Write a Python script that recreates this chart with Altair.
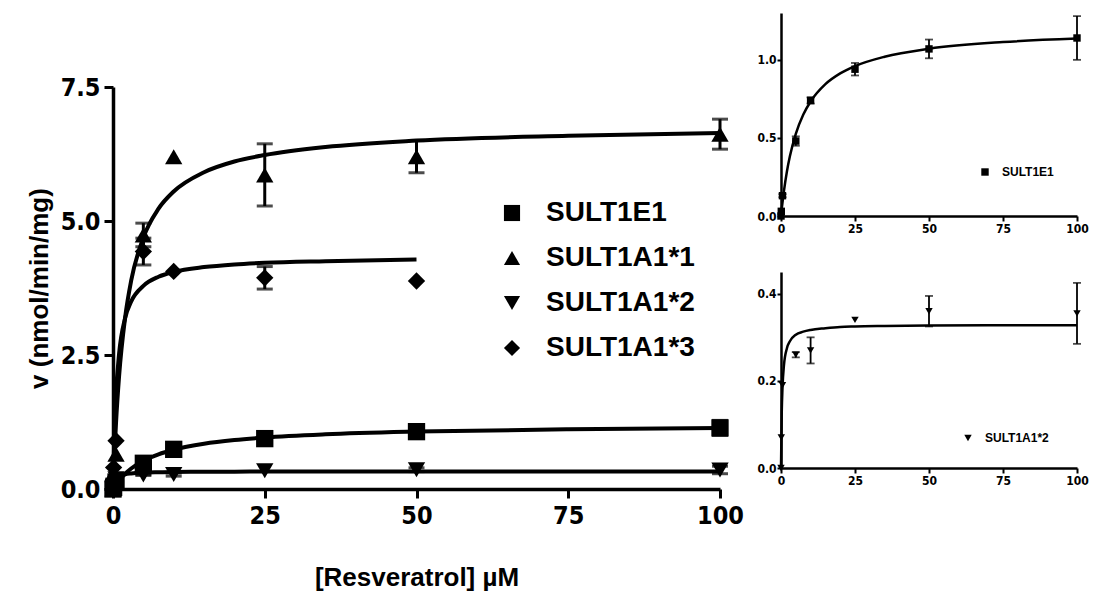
import altair as alt
import pandas as pd

# ---------------- data ----------------
series = ["SULT1E1", "SULT1A1*1", "SULT1A1*2", "SULT1A1*3"]
shapes = ["square", "triangle-up", "triangle-down", "diamond"]

conc = [0, 0.1, 0.5, 5, 10, 25, 50, 100]
v_e1 = [0.0, 0.03, 0.13, 0.48, 0.74, 0.94, 1.07, 1.14]
e_e1 = [0.0, 0.0, 0.01, 0.03, 0.02, 0.04, 0.06, 0.14]
v_a1 = [0.0, 0.30, 0.65, 4.74, 6.20, 5.86, 6.20, 6.62]
e_a1 = [0.0, 0.0, 0.0, 0.22, 0.0, 0.58, 0.30, 0.28]
v_a2 = [0.0, 0.07, 0.19, 0.26, 0.27, 0.34, 0.36, 0.355]
e_a2 = [0.0, 0.0, 0.0, 0.006, 0.03, 0.0, 0.035, 0.07]
v_a3 = [0.0, 0.40, 0.90, 4.43, 4.06, 3.94, 3.88, None]
e_a3 = [0.0, 0.0, 0.0, 0.25, 0.0, 0.21, 0.0, None]

curve_x = [0, 0.25, 0.5, 1, 2, 3, 5, 7.5, 10, 15, 20, 25, 35, 50, 75, 100]
c_e1 = [0, 0.045, 0.086, 0.161, 0.285, 0.382, 0.526, 0.648, 0.733, 0.844, 0.913, 0.960, 1.020, 1.071, 1.114, 1.136]
c_a1 = [0, 0.68, 1.24, 2.10, 3.20, 3.89, 4.69, 5.23, 5.55, 5.91, 6.11, 6.23, 6.38, 6.50, 6.59, 6.64]
c_a2 = [0, 0.127, 0.183, 0.236, 0.275, 0.291, 0.306, 0.313, 0.317, 0.321, 0.324, 0.325, 0.326, 0.327, 0.328, 0.328]
c_a3 = [0, 1.12, 1.78, 2.52, 3.19, 3.50, 3.79, 3.96, 4.05, 4.14, 4.19, 4.22, 4.25, 4.28, None, None]

x_ticks = [0, 25, 50, 75, 100]
main_y_ticks = [0, 2.5, 5.0, 7.5]
inset1_y_ticks = [0, 0.5, 1.0]
inset2_y_ticks = [0, 0.2, 0.4]

# ---------------- tables ----------------
pts_rows, curve_rows = [], []
for s, vals, errs in zip(series, [v_e1, v_a1, v_a2, v_a3], [e_e1, e_a1, e_a2, e_a3]):
    for c, v, e in zip(conc, vals, errs):
        if v is None:
            continue
        pts_rows.append({"series": s, "conc": c, "v": v, "err": e, "lo": v - e, "hi": v + e})
for s, vals in zip(series, [c_e1, c_a1, c_a2, c_a3]):
    for c, v in zip(curve_x, vals):
        if v is None:
            continue
        curve_rows.append({"series": s, "conc": c, "v": v})
pts = pd.DataFrame(pts_rows)
curves = pd.DataFrame(curve_rows)

BOLD = "Liberation Sans"
NARROW = "Liberation Sans Narrow, DejaVu Sans Condensed, Liberation Sans"


def panel(sel, ydom, yticks, w, h, big, legend_xy, xtitle=None, ytitle=None):
    p = pts[pts["series"].isin(sel)]
    cv = curves[curves["series"].isin(sel)]
    eb = p[p["err"] > 0]
    caps = pd.concat([eb.assign(cap=eb["lo"]), eb.assign(cap=eb["hi"])])
    lw = 4 if big else 2.5
    ew = 3 if big else 1.8
    capw = 16 if big else 8
    msize = 300 if big else 55
    xs = alt.Scale(domain=[0, 100], nice=False, zero=True)
    ys = alt.Scale(domain=ydom, nice=False, zero=True)
    if big:
        xax = alt.Axis(values=x_ticks, title=xtitle, labelFont=NARROW, labelFontSize=25,
                       labelFontWeight="bold", titleFont=BOLD, titleFontSize=26,
                       titleFontWeight="bold", tickSize=9, tickWidth=3, domainWidth=3.5,
                       labelPadding=5, titlePadding=36, labelFlush=False)
        yax = alt.Axis(values=yticks, format=".1f", title=ytitle, labelFont=NARROW,
                       labelFontSize=25, labelFontWeight="bold", titleFont=BOLD,
                       titleFontSize=26, titleFontWeight="bold", tickSize=9, tickWidth=3,
                       domainWidth=3.5, labelPadding=4, titlePadding=8, labelFlush=False)
    else:
        xax = alt.Axis(values=x_ticks, title=None, labelFont=NARROW, labelFontSize=12,
                       labelFontWeight="bold", tickSize=5, tickWidth=2, domainWidth=2.5,
                       labelPadding=2, labelFlush=False)
        yax = alt.Axis(values=yticks, format=".1f", title=None, labelFont=NARROW,
                       labelFontSize=12, labelFontWeight="bold", tickSize=4, tickWidth=2,
                       domainWidth=2.5, labelPadding=1, labelFlush=False)

    x = alt.X("conc:Q", scale=xs, axis=xax)
    y = alt.Y("v:Q", scale=ys, axis=yax)

    line = alt.Chart(cv).mark_line(color="black", strokeWidth=lw, interpolate="monotone").encode(
        x=x, y=y, detail="series:N")
    rules = alt.Chart(eb).mark_rule(color="black", strokeWidth=ew).encode(
        x=alt.X("conc:Q", scale=xs), y=alt.Y("lo:Q", scale=ys), y2="hi:Q")
    cap = alt.Chart(caps).mark_tick(color="black", thickness=ew, size=capw, orient="horizontal").encode(
        x=alt.X("conc:Q", scale=xs), y=alt.Y("cap:Q", scale=ys))
    idx = [series.index(s) for s in sel]
    leg = alt.Legend(title=None, orient="none", legendX=legend_xy[0], legendY=legend_xy[1],
                     labelFont=BOLD, labelFontWeight="bold",
                     labelFontSize=28 if big else 12, symbolSize=260 if big else 55,
                     symbolFillColor="black", symbolStrokeColor="black",
                     symbolStrokeWidth=0, rowPadding=17 if big else 2,
                     labelOffset=20 if big else 11, labelLimit=400)
    points = alt.Chart(p).mark_point(filled=True, color="black", opacity=1, size=msize).encode(
        x=alt.X("conc:Q", scale=xs),
        y=alt.Y("v:Q", scale=ys),
        shape=alt.Shape("series:N", scale=alt.Scale(domain=sel, range=[shapes[i] for i in idx]),
                        legend=leg))
    return alt.layer(line, rules, cap, points).properties(width=w, height=h)


main = panel(series, [0, 7.5], main_y_ticks, 607, 402, True, (385, 112),
             xtitle="[Resveratrol] \u00b5M", ytitle="v (nmol/min/mg)")
inset1 = panel(["SULT1E1"], [0, 1.3], inset1_y_ticks, 296, 203, False, (198, 153))
inset2 = panel(["SULT1A1*2"], [0, 0.45], inset2_y_ticks, 296, 196, False, (181, 160))

spacer = alt.Chart(pd.DataFrame({"s": [0]})).mark_point(opacity=0).encode(
    x=alt.value(0), y=alt.value(0)).properties(width=1, height=62)

left = alt.vconcat(spacer, main, spacing=0).resolve_scale(shape="independent")
right = alt.vconcat(inset1, inset2, spacing=38).resolve_scale(shape="independent")

chart = alt.hconcat(left, right, spacing=12).resolve_scale(shape="independent").properties(
    padding={"left": 18, "top": 2, "right": 2, "bottom": 2}
).configure_view(stroke=None).configure_axis(
    domainColor="black", tickColor="black", labelColor="black", titleColor="black", grid=False
).configure_legend(labelColor="black")

chart.save("out.html", embed_options={"renderer": "svg", "actions": False})
